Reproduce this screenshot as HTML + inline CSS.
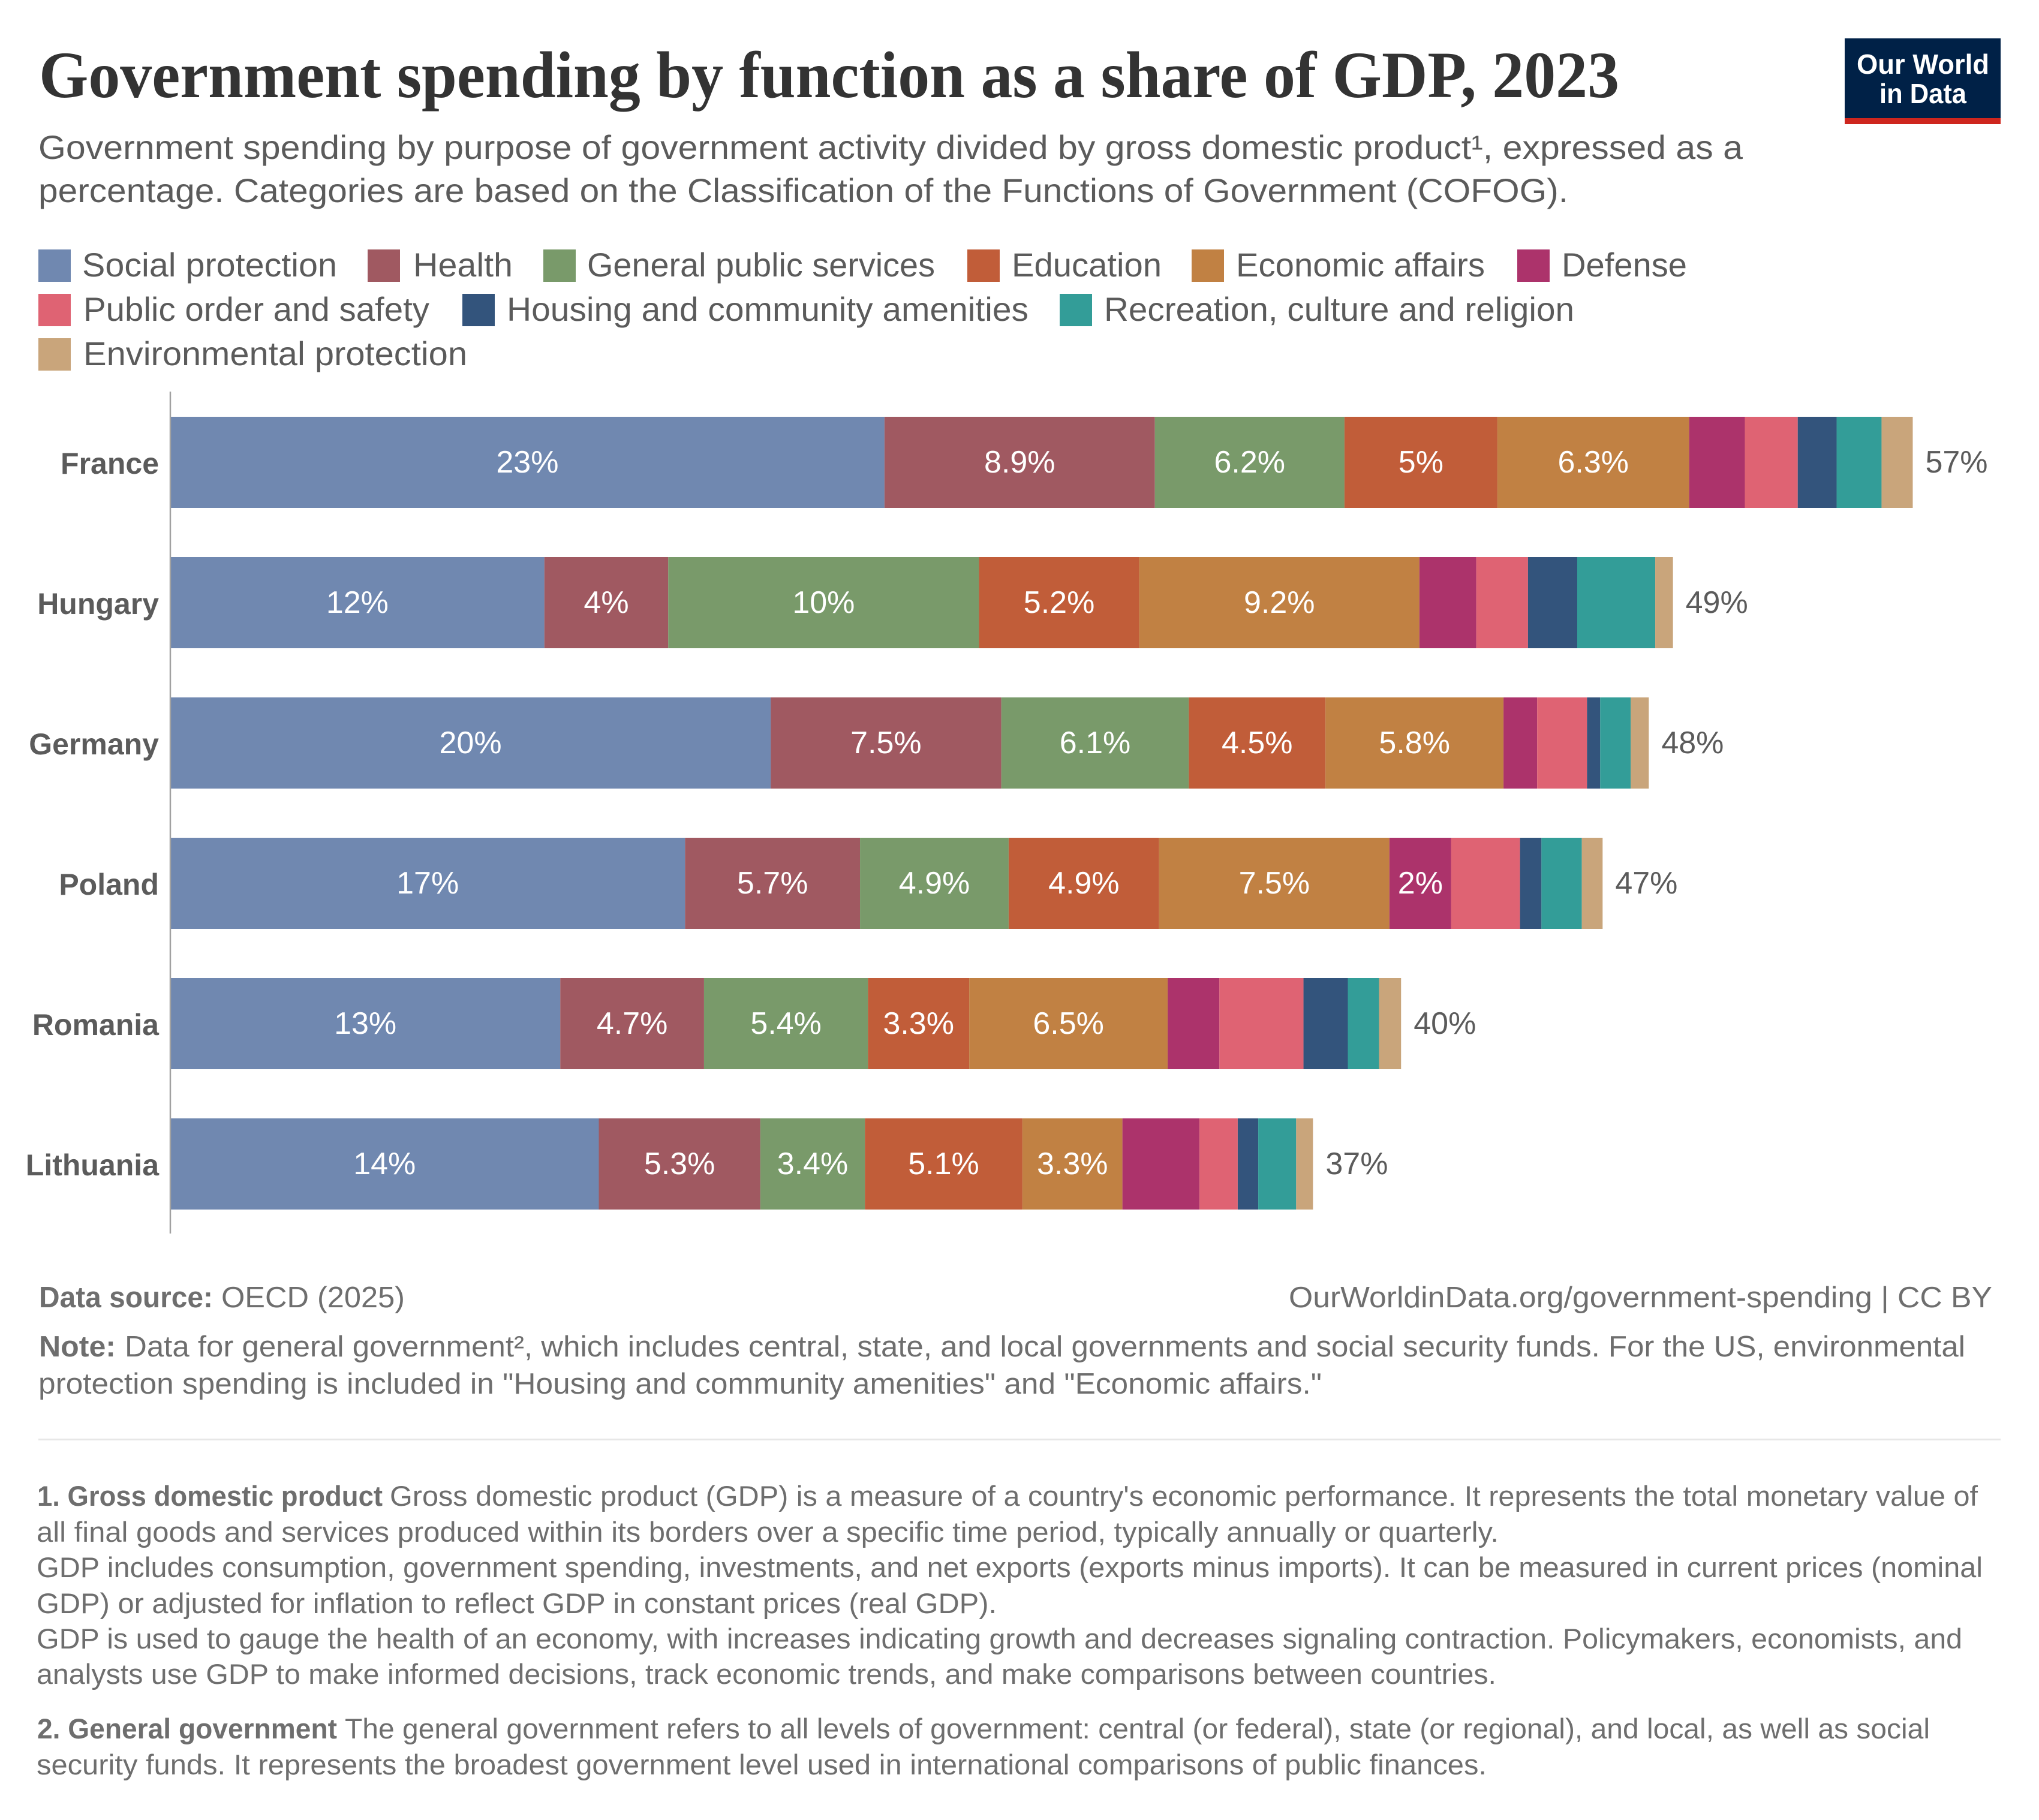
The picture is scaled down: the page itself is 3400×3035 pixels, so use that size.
<!DOCTYPE html>
<html lang="en">
<head>
<meta charset="utf-8">
<title>Government spending by function as a share of GDP, 2023</title>
<style>
html,body{margin:0;padding:0;background:#fff}
svg{display:block}
text{font-family:"Liberation Sans",sans-serif}
.t{font-family:"Liberation Serif",serif;font-weight:700;fill:#333}
.sub{font-size:56px;fill:#5b5b5b}
.leg{font-size:56px;fill:#5b5b5b}
.foot{font-size:49px;fill:#6e6e6e}
.note{font-size:47px;fill:#6e6e6e}
.b{font-weight:700}
</style>
</head>
<body>
<svg id="page" xmlns="http://www.w3.org/2000/svg" width="3400" height="3035" viewBox="0 0 3400 3035">
<rect x="0" y="0" width="3400" height="3035" fill="#fff"/>

<text class="t" x="65" y="162" font-size="110" textLength="2635" lengthAdjust="spacingAndGlyphs">Government spending by function as a share of GDP, 2023</text>

<g>
<rect x="3076" y="64" width="260" height="143" fill="#002147"/>
<rect x="3076" y="197" width="260" height="10" fill="#ce261e"/>
<text x="3096" y="123" font-size="46" font-weight="700" fill="#fff" textLength="221" lengthAdjust="spacingAndGlyphs">Our World</text>
<text x="3134" y="172" font-size="46" font-weight="700" fill="#fff" textLength="145" lengthAdjust="spacingAndGlyphs">in Data</text>
</g>

<text class="sub" x="64" y="265" textLength="2842" lengthAdjust="spacingAndGlyphs">Government spending by purpose of government activity divided by gross domestic product¹, expressed as a</text>
<text class="sub" x="64" y="337" textLength="2551" lengthAdjust="spacingAndGlyphs">percentage. Categories are based on the Classification of the Functions of Government (COFOG).</text>

<g>
<g><rect x="64" y="416" width="54" height="54" fill="#7088b0"/><text class="leg" x="137" y="461" textLength="425" lengthAdjust="spacingAndGlyphs">Social protection</text></g>
<g><rect x="613" y="416" width="54" height="54" fill="#a05961"/><text class="leg" x="689" y="461" textLength="166" lengthAdjust="spacingAndGlyphs">Health</text></g>
<g><rect x="906" y="416" width="54" height="54" fill="#799a6a"/><text class="leg" x="979" y="461" textLength="580" lengthAdjust="spacingAndGlyphs">General public services</text></g>
<g><rect x="1613" y="416" width="54" height="54" fill="#c15d39"/><text class="leg" x="1687" y="461" textLength="250" lengthAdjust="spacingAndGlyphs">Education</text></g>
<g><rect x="1987" y="416" width="54" height="54" fill="#c18143"/><text class="leg" x="2061" y="461" textLength="415" lengthAdjust="spacingAndGlyphs">Economic affairs</text></g>
<g><rect x="2530" y="416" width="54" height="54" fill="#ac336b"/><text class="leg" x="2604" y="461" textLength="209" lengthAdjust="spacingAndGlyphs">Defense</text></g>
<g><rect x="64" y="490" width="54" height="54" fill="#df6373"/><text class="leg" x="139" y="535" textLength="577" lengthAdjust="spacingAndGlyphs">Public order and safety</text></g>
<g><rect x="771" y="490" width="54" height="54" fill="#33547c"/><text class="leg" x="845" y="535" textLength="870" lengthAdjust="spacingAndGlyphs">Housing and community amenities</text></g>
<g><rect x="1767" y="490" width="54" height="54" fill="#339d98"/><text class="leg" x="1841" y="535" textLength="784" lengthAdjust="spacingAndGlyphs">Recreation, culture and religion</text></g>
<g><rect x="64" y="564" width="54" height="54" fill="#c9a57b"/><text class="leg" x="139" y="609" textLength="640" lengthAdjust="spacingAndGlyphs">Environmental protection</text></g>
</g>

<g id="plot"></g>

<text class="foot b" x="65" y="2180" textLength="290" lengthAdjust="spacingAndGlyphs">Data source:</text>
<text class="foot" x="369" y="2180" textLength="306" lengthAdjust="spacingAndGlyphs">OECD (2025)</text>
<text class="foot" x="2149" y="2180" textLength="1173" lengthAdjust="spacingAndGlyphs">OurWorldinData.org/government-spending | CC BY</text>
<text class="foot b" x="65" y="2262" textLength="128" lengthAdjust="spacingAndGlyphs">Note:</text>
<text class="foot" x="208" y="2262" textLength="3069" lengthAdjust="spacingAndGlyphs">Data for general government², which includes central, state, and local governments and social security funds. For the US, environmental</text>
<text class="foot" x="64" y="2324" textLength="2140" lengthAdjust="spacingAndGlyphs">protection spending is included in "Housing and community amenities" and "Economic affairs."</text>

<rect x="64" y="2399" width="3272" height="3" fill="#e7e7e7"/>

<text class="note b" x="62" y="2511" textLength="576" lengthAdjust="spacingAndGlyphs">1. Gross domestic product</text>
<text class="note" x="650" y="2511" textLength="2648" lengthAdjust="spacingAndGlyphs">Gross domestic product (GDP) is a measure of a country's economic performance. It represents the total monetary value of</text>
<text class="note" x="61" y="2571" textLength="2438" lengthAdjust="spacingAndGlyphs">all final goods and services produced within its borders over a specific time period, typically annually or quarterly.</text>
<text class="note" x="61" y="2630" textLength="3245" lengthAdjust="spacingAndGlyphs">GDP includes consumption, government spending, investments, and net exports (exports minus imports). It can be measured in current prices (nominal</text>
<text class="note" x="61" y="2690" textLength="1601" lengthAdjust="spacingAndGlyphs">GDP) or adjusted for inflation to reflect GDP in constant prices (real GDP).</text>
<text class="note" x="61" y="2749" textLength="3211" lengthAdjust="spacingAndGlyphs">GDP is used to gauge the health of an economy, with increases indicating growth and decreases signaling contraction. Policymakers, economists, and</text>
<text class="note" x="61" y="2808" textLength="2434" lengthAdjust="spacingAndGlyphs">analysts use GDP to make informed decisions, track economic trends, and make comparisons between countries.</text>
<text class="note b" x="62" y="2899" textLength="500" lengthAdjust="spacingAndGlyphs">2. General government</text>
<text class="note" x="575" y="2899" textLength="2643" lengthAdjust="spacingAndGlyphs">The general government refers to all levels of government: central (or federal), state (or regional), and local, as well as social</text>
<text class="note" x="61" y="2959" textLength="2418" lengthAdjust="spacingAndGlyphs">security funds. It represents the broadest government level used in international comparisons of public finances.</text>
</svg>

<script>
const countries = ['France', 'Hungary', 'Germany', 'Poland', 'Romania', 'Lithuania'];
const seriesNames = ['social-protection', 'health', 'general-public-services', 'education', 'economic-affairs', 'defense', 'public-order-and-safety', 'housing-and-community-amenities', 'recreation-culture-and-religion', 'environmental-protection'];

const socialProtection = [23.35, 12.23, 19.63, 16.83, 12.75, 14.01];
const health = [8.84, 4.05, 7.54, 5.72, 4.70, 5.28];
const generalPublicServices = [6.20, 10.16, 6.13, 4.86, 5.36, 3.42];
const education = [5.00, 5.24, 4.47, 4.92, 3.31, 5.15];
const economicAffairs = [6.27, 9.16, 5.82, 7.53, 6.49, 3.27];
const defense = [1.82, 1.86, 1.10, 2.02, 1.69, 2.52];
const publicOrder = [1.73, 1.69, 1.63, 2.25, 2.75, 1.25];
const housing = [1.27, 1.61, 0.43, 0.70, 1.45, 0.67];
const recreation = [1.47, 2.55, 1.00, 1.32, 1.02, 1.24];
const environment = [1.02, 0.58, 0.59, 0.68, 0.72, 0.55];

const socialLabels = ['23%', '12%', '20%', '17%', '13%', '14%'];
const healthLabels = ['8.9%', '4%', '7.5%', '5.7%', '4.7%', '5.3%'];
const generalLabels = ['6.2%', '10%', '6.1%', '4.9%', '5.4%', '3.4%'];
const educationLabels = ['5%', '5.2%', '4.5%', '4.9%', '3.3%', '5.1%'];
const economicLabels = ['6.3%', '9.2%', '5.8%', '7.5%', '6.5%', '3.3%'];
const defenseLabels = ['', '', '', '2%', '', ''];
const totalLabels = ['57%', '49%', '48%', '47%', '40%', '37%'];

const seriesValues = [socialProtection, health, generalPublicServices, education, economicAffairs, defense, publicOrder, housing, recreation, environment];
const seriesLabels = [socialLabels, healthLabels, generalLabels, educationLabels, economicLabels, defenseLabels];
const seriesColors = ['#7088b0', '#a05961', '#799a6a', '#c15d39', '#c18143', '#ac336b', '#df6373', '#33547c', '#339d98', '#c9a57b'];

const NS = 'http://www.w3.org/2000/svg';
const plot = document.getElementById('plot');
const xScale = function (v) { return 284 + v * 51; };
const bandTop = function (i) { return 695 + i * 234; };
const bandHeight = 152;

function make(tag, attrs, text) {
  const el = document.createElementNS(NS, tag);
  Object.keys(attrs).forEach(function (k) { el.setAttribute(k, attrs[k]); });
  if (text !== undefined) el.textContent = text;
  plot.appendChild(el);
  return el;
}

countries.forEach(function (country, i) {
  const top = bandTop(i);
  const baseline = top + 93;
  const slug = country.toLowerCase();
  let cum = 0;
  seriesValues.forEach(function (values, s) {
    const x0 = xScale(cum);
    const x1 = xScale(cum + values[i]);
    const bar = make('rect', { x: x0, y: top, width: x1 - x0, height: bandHeight, fill: seriesColors[s] });
    
    
    const labels = seriesLabels[s];
    if (labels && labels[i]) {
      const lab = make('text', { x: (x0 + x1) / 2, y: baseline, 'font-size': 52, fill: '#fff', 'text-anchor': 'middle' }, labels[i]);
      
      
    }
    cum += values[i];
  });
  const total = make('text', { x: xScale(cum) + 21, y: baseline, 'font-size': 52, fill: '#5b5b5b' }, totalLabels[i]);
  
  
  const name = make('text', { x: 265, y: top + 95, 'font-size': 50, 'font-weight': 700, fill: '#5b5b5b', 'text-anchor': 'end' }, country);
  
  
});

const axis = make('line', { x1: xScale(0), x2: xScale(0), y1: 653, y2: 2057, stroke: '#a1a1a1', 'stroke-width': 2.5 });


</script>
</body>
</html>
